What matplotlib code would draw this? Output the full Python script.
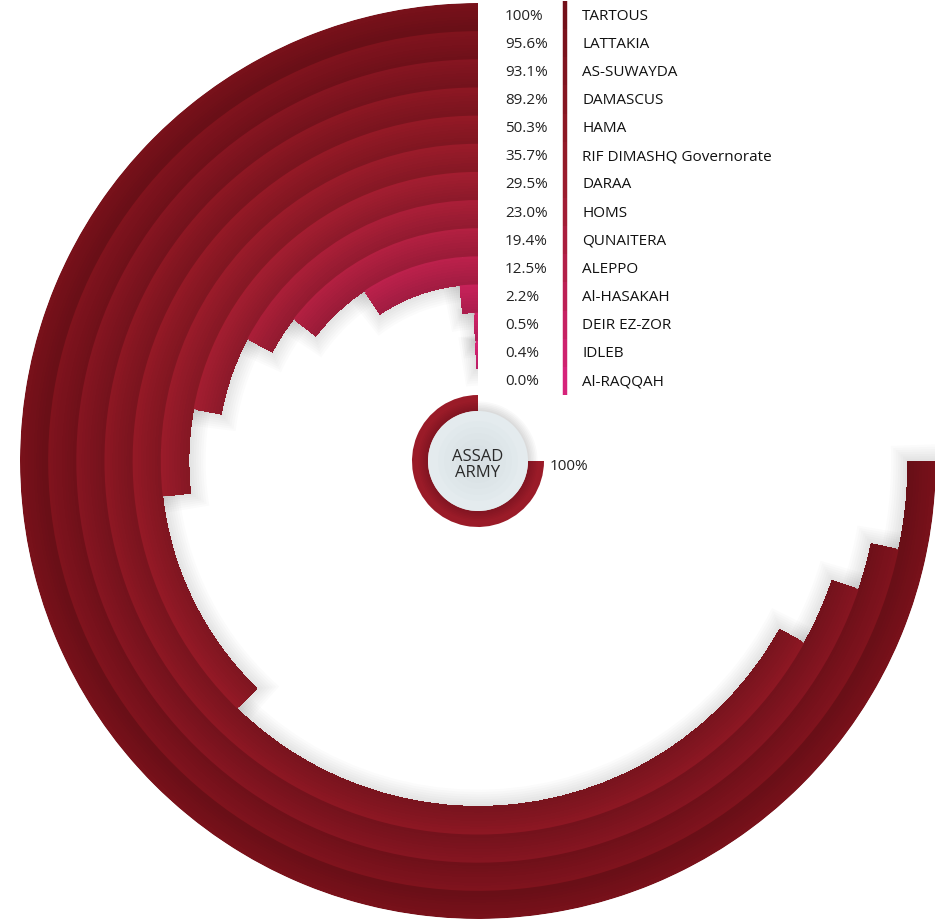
import numpy as np
import matplotlib.pyplot as plt
import matplotlib.colors as mcolors

plt.rcParams['font.family'] = ['Open Sans', 'DejaVu Sans']

regions = ["TARTOUS", "LATTAKIA", "AS-SUWAYDA", "DAMASCUS", "HAMA",
           "RIF DIMASHQ Governorate", "DARAA", "HOMS", "QUNAITERA", "ALEPPO",
           "Al-HASAKAH", "DEIR EZ-ZOR", "IDLEB", "Al-RAQQAH"]
percent = [100, 95.6, 93.1, 89.2, 50.3, 35.7, 29.5, 23.0, 19.4, 12.5, 2.2, 0.5, 0.4, 0.0]
pct_labels = ["100%", "95.6%", "93.1%", "89.2%", "50.3%", "35.7%", "29.5%",
              "23.0%", "19.4%", "12.5%", "2.2%", "0.5%", "0.4%", "0.0%"]
ring_colors = ["#731019", "#7a121c", "#80141f", "#861621", "#8d1824", "#931a28",
               "#9b1c2e", "#a21d35", "#aa1e3e", "#b31f48", "#bd2055", "#c62162",
               "#ce226e", "#d6237a"]
army_label = "ASSAD\nARMY"
army_pct = 100
army_pct_label = "100%"

W, H = 935, 920
cx, cy = 478, 462
R = 458          # outer radius of the outer ring (px)
w = 28.15        # ring width (px)
full_sweep = 1.5 * np.pi   # 100% = three quarters of a circle

fig = plt.figure(figsize=(W / 100, H / 100), dpi=100)
fig.patch.set_facecolor('white')

ax = fig.add_axes([(cx - R) / W, (H - cy - R) / H, 2 * R / W, 2 * R / H],
                  projection='polar')
ax.set_theta_zero_location('N')
ax.set_theta_direction(1)
ax.set_ylim(0, R)
ax.axis('off')

# soft shadow under the rings
for i, p in enumerate(percent):
    if p <= 0:
        continue
    outer = R - i * w
    sweep = full_sweep * p / 100
    for k in range(1, 8):
        ex = k * 2.4
        ax.bar(0, w + ex * 1.3, width=sweep + ex / outer,
               bottom=outer - w - ex, align='edge', color='#000000',
               alpha=0.016, linewidth=0)

# rings, a little darker towards their inner edge
n_sub = 10
for i, p in enumerate(percent):
    if p <= 0:
        continue
    outer = R - i * w
    sweep = full_sweep * p / 100
    base = np.array(mcolors.to_rgb(ring_colors[i]))
    ax.bar(0, w, width=sweep, bottom=outer - w, align='edge',
           color=np.clip(base * 1.05, 0, 1), linewidth=0)
    for s in range(1, n_sub):
        f = s / (n_sub - 1)
        c = np.clip(base * (1.05 - 0.14 * f), 0, 1)
        r0 = outer - w
        ax.bar(0, w * (1 - s / n_sub), width=sweep, bottom=r0, align='edge',
               color=c, linewidth=0, antialiased=False)

# centre piece
ax.bar(0, 16, width=full_sweep * army_pct / 100, bottom=50, align='edge',
       color='#9a1b28', linewidth=0)
for k in range(1, 7):
    ax.bar(0, 50 + k * 1.6, width=2 * np.pi, bottom=0, color='#000000',
           alpha=0.025, linewidth=0)
ax.bar(0, 50, width=2 * np.pi, bottom=0, color='#e4ebee', linewidth=0)
for k in range(6):
    ax.bar(0, 40 - k * 6, width=2 * np.pi, bottom=0, color='#c9d4da',
           alpha=0.08, linewidth=0)

# overlay for labels and the colour key line
ov = fig.add_axes([0, 0, 1, 1])
ov.set_xlim(0, W)
ov.set_ylim(H, 0)
ov.axis('off')

y0 = 16
for i, name in enumerate(regions):
    y = y0 + i * w
    ov.plot([565, 565], [y - w / 2, y + w / 2], color=ring_colors[i],
            linewidth=3.2, solid_capstyle='butt')
    ov.text(505, y, pct_labels[i], fontsize=11, color='#222222',
            ha='left', va='center')
    ov.text(582, y, name, fontsize=11, color='#111111',
            ha='left', va='center')

ov.text(cx, cy + 3, army_label, fontsize=12, color='#2a2a2a',
        ha='center', va='center', linespacing=1.05)
ov.text(550, 467, army_pct_label, fontsize=11, color='#222222',
        ha='left', va='center')

fig.savefig('out.png', dpi=100, facecolor='white')
